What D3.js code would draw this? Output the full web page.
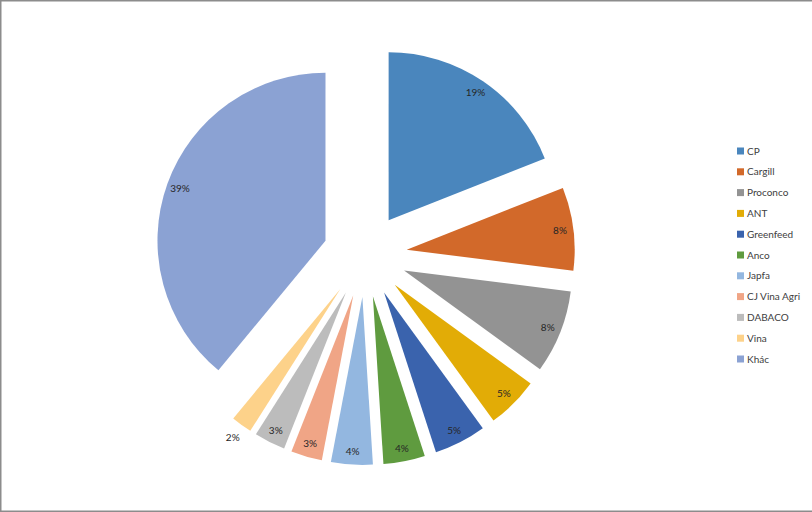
<!DOCTYPE html>
<html>
<head>
<meta charset="utf-8">
<script src="https://cdn.jsdelivr.net/npm/d3@7"></script>
<style>
  body { margin: 0; background: #fff; }
  svg { display: block; font-family: Lato, "Liberation Sans", sans-serif; }
</style>
</head>
<body>
<svg id="chart" width="812" height="512"></svg>
<script>
// data
var categories = ['CP', 'Cargill', 'Proconco', 'ANT', 'Greenfeed', 'Anco', 'Japfa', 'CJ Vina Agri', 'DABACO', 'Vina', 'Khác'];
var shares = [19, 8, 8, 5, 5, 4, 4, 3, 3, 2, 39];

var palette = ['#4a86bd', '#d2692a', '#939393', '#e2ac06', '#3a63ad', '#5f9b3f',
               '#93b7e0', '#f0a586', '#bcbcbc', '#fdd28a', '#8ba2d3'];

var svg = d3.select('#chart');
var width = 812, height = 512;

// khung viền
svg.append('path')
  .attr('d', 'M' + width + ',0.75 L0.75,0.75 L0.75,' + (height - 0.75) + ' L' + width + ',' + (height - 0.75))
  .attr('fill', 'none')
  .attr('stroke', '#8c8c8c')
  .attr('stroke-width', 1.5);

var cx = 365, cy = 255,
    radius = 168,
    explode = 42;

var color = d3.scaleOrdinal().domain(categories).range(palette);

var pie = d3.pie()
  .sort(null)
  .value(function(d) { return d.value; });

var arc = d3.arc()
  .innerRadius(0)
  .outerRadius(radius);

var data = categories.map(function(c, i) { return { name: c, value: shares[i] }; });
var total = d3.sum(shares);

var g = svg.append('g')
  .attr('transform', 'translate(' + cx + ',' + cy + ')');

var slices = g.selectAll('.slice')
  .data(pie(data))
  .enter()
  .append('g')
  .attr('class', 'slice')
  .attr('transform', function(d) {
    var mid = (d.startAngle + d.endAngle) / 2;
    return 'translate(' + (Math.sin(mid) * explode) + ',' + (-Math.cos(mid) * explode) + ')';
  });

slices.append('path')
  .attr('d', arc)
  .attr('fill', function(d) { return color(d.data.name); });

// nhãn phần trăm: bên trong mép, lát quá hẹp thì đặt ra ngoài
function labelPos(d) {
  var mid = (d.startAngle + d.endAngle) / 2;
  var r = d.data.value < 2.5 ? radius + 15 : radius * 0.92;
  return [Math.sin(mid) * r, -Math.cos(mid) * r];
}

slices.append('text')
  .attr('x', function(d) { return labelPos(d)[0]; })
  .attr('y', function(d) { return labelPos(d)[1]; })
  .attr('dy', '0.35em')
  .attr('text-anchor', 'middle')
  .attr('font-size', '10px')
  .attr('fill', '#262626')
  .text(function(d) { return Math.round(d.data.value / total * 100) + '%'; });

// chú giải
var legend = svg.append('g')
  .attr('transform', 'translate(737,151)');

var rows = legend.selectAll('.row')
  .data(categories)
  .enter()
  .append('g')
  .attr('class', 'row')
  .attr('transform', function(d, i) { return 'translate(0,' + (i * 20.8) + ')'; });

rows.append('rect')
  .attr('x', 0)
  .attr('y', -3.5)
  .attr('width', 7)
  .attr('height', 7)
  .attr('fill', function(d) { return color(d); });

rows.append('text')
  .attr('x', 10)
  .attr('dy', '0.35em')
  .attr('font-size', '10px')
  .attr('fill', '#404040')
  .text(function(d) { return d; });
</script>
</body>
</html>
